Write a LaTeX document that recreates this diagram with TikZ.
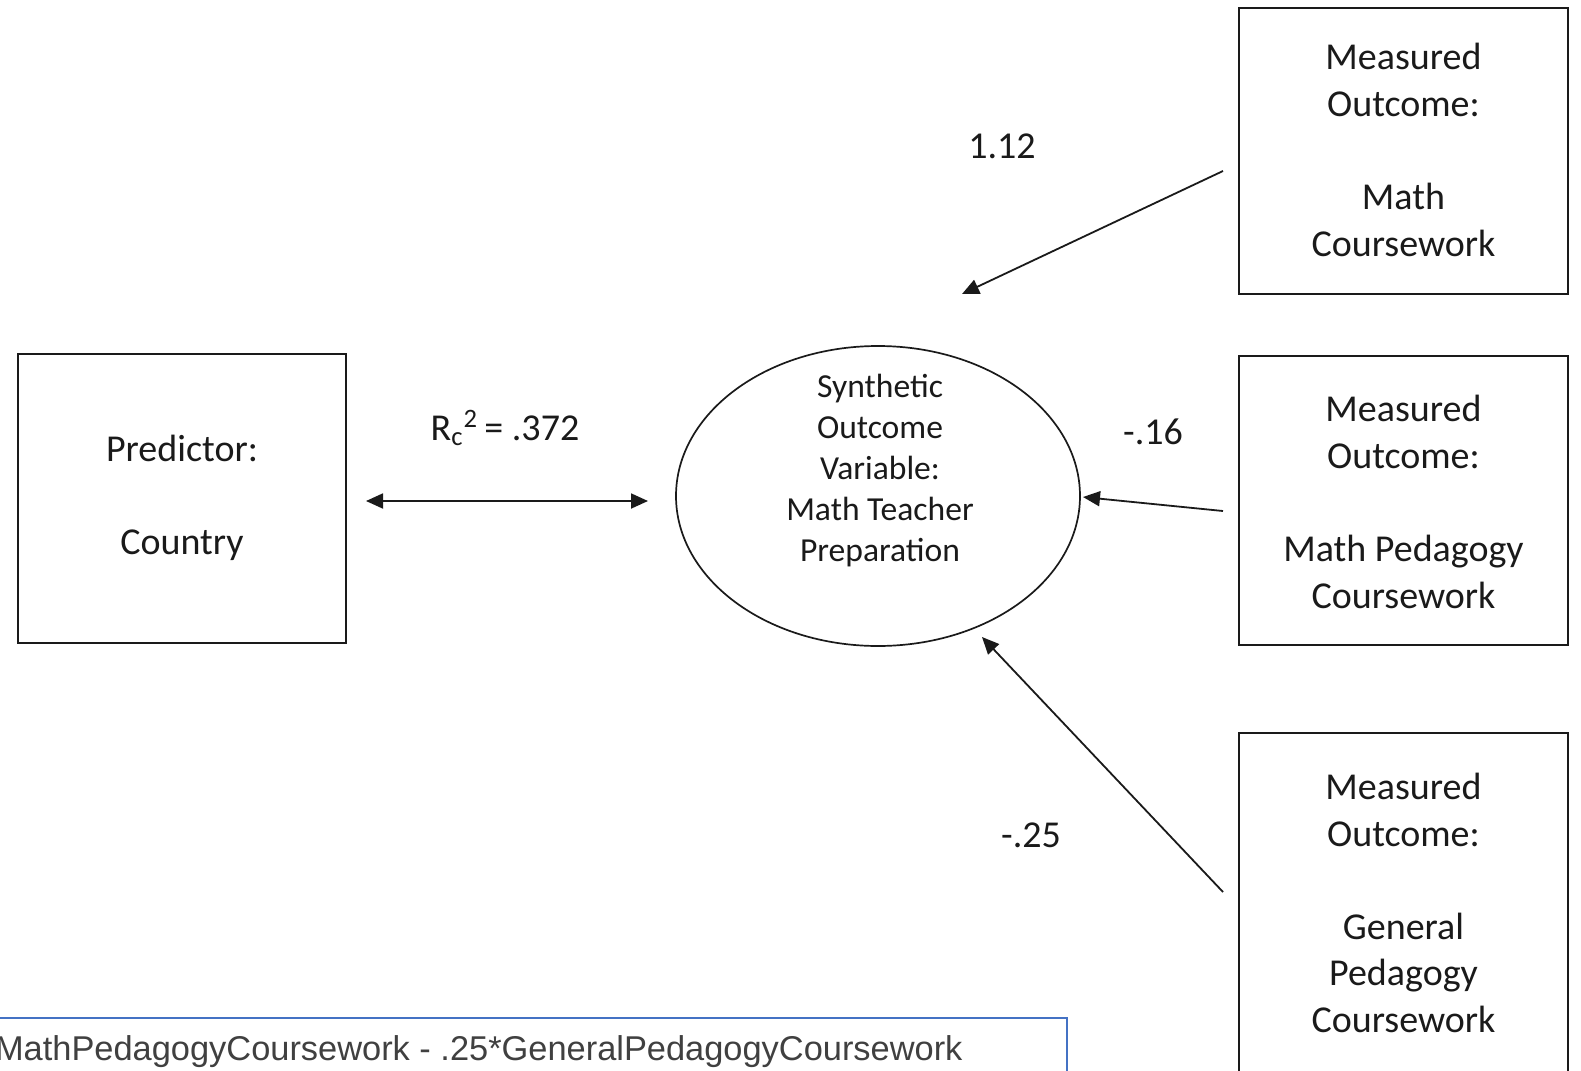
\documentclass[tikz,border=0pt]{standalone}
\usepackage{fontspec}
\setmainfont{Carlito}
\newfontfamily\arialf{Liberation Sans}
\usetikzlibrary{arrows.meta,shapes.geometric}
\definecolor{inkc}{HTML}{1A1A1A}
\definecolor{bluebox}{HTML}{4472C4}
\definecolor{graytxt}{HTML}{404040}
\begin{document}
\begin{tikzpicture}[x=0.5pt,y=-0.5pt,
  box/.style={draw=inkc, line width=0.95pt, rectangle, inner sep=0pt},
  boxtext/.style={align=center, text=inkc, font=\fontsize{19}{23.3}\selectfont, inner sep=0pt},
  elltext/.style={align=center, text=inkc, font=\fontsize{16.8}{20.5}\selectfont, inner sep=0pt},
  lbl/.style={text=inkc, font=\fontsize{19}{23}\selectfont, inner sep=0pt},
  tip/.style={Triangle[length=8.5pt,width=7.5pt]},
  conn/.style={draw=inkc, line width=0.9pt, -{Triangle[length=8.5pt,width=7.5pt]}},
  dconn/.style={draw=inkc, line width=0.9pt, {Triangle[length=8.5pt,width=7.5pt]}-{Triangle[length=8.5pt,width=7.5pt]}},
]
\useasboundingbox (0,0) rectangle (1581,1071);
\clip (0,0) rectangle (1581,1071);

% boxes
\node[box, minimum width=164pt, minimum height=144.5pt] (pred) at (182,498.5) {};
\node[boxtext] (predt) at (182,498) {Predictor:\\~\\Country};

\node[box, minimum width=164.5pt, minimum height=143pt] (mc) at (1403.5,151) {};
\node[boxtext] (mct) at (1403.5,150) {Measured\\Outcome:\\~\\Math\\Coursework};

\node[box, minimum width=164.5pt, minimum height=144.5pt] (mpc) at (1403.5,500.5) {};
\node[boxtext] (mpct) at (1403.5,502) {Measured\\Outcome:\\~\\Math Pedagogy\\Coursework};

\node[box, minimum width=164.5pt, minimum height=178.5pt] (gpc) at (1403.5,911.5) {};
\node[boxtext] (gpct) at (1403.5,903) {Measured\\Outcome:\\~\\General\\Pedagogy\\Coursework};

% ellipse
\node[draw=inkc, line width=0.85pt, ellipse, minimum width=202pt, minimum height=150pt, inner sep=0pt] (ell) at (878,496) {};
\node[elltext] (ellt) at (880,471) {Synthetic\\Outcome\\Variable:\\Math Teacher\\Preparation};

% connector end points
\coordinate (dA) at (366,501);
\coordinate (dB) at (648,501);
\coordinate (aS) at (1223,171);
\coordinate (aE) at (962,294);
\coordinate (bS) at (1223,511);
\coordinate (bE) at (1083,497);
\coordinate (cS) at (1223,892);
\coordinate (cE) at (982,637);

\draw[dconn] (dA) -- (dB);
\draw[conn] (aS) -- (aE);
\draw[conn] (bS) -- (bE);
\draw[conn] (cS) -- (cE);

% labels
\node[lbl] (l1) at (505,428) {R\textsubscript{c}\textsuperscript{2}\,= .372};
\node[lbl] (l2) at (1002,146) {1.12};
\node[lbl] (l3) at (1153,432) {-.16};
\node[lbl] (l4) at (1031,835) {-.25};

% bottom equation box
\draw[draw=bluebox, line width=1.1pt] (-20,1018) -- (1067,1018) -- (1067,1090);
\node[anchor=base east, inner sep=0pt, text=graytxt, font=\arialf\fontsize{17.2}{20}\selectfont] (eq) at (963,1060) {MathPedagogyCoursework - .25*GeneralPedagogyCoursework};
\end{tikzpicture}
\end{document}
